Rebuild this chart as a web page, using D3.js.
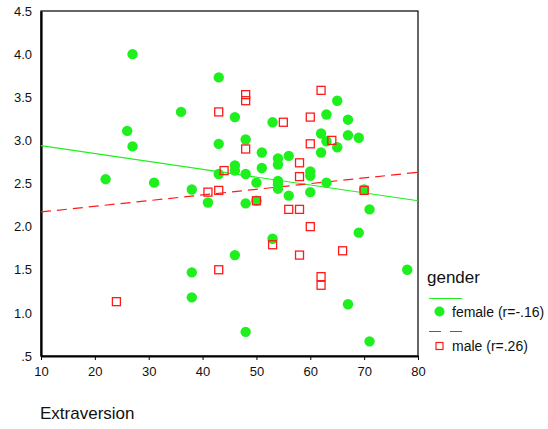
<!DOCTYPE html>
<html>
<head>
<meta charset="utf-8">
<script src="https://cdn.jsdelivr.net/npm/d3@7"></script>
<style>
  body { margin: 0; background: #fff; }
  text { font-family: "Liberation Sans", Arial, sans-serif; fill: #111; }
</style>
</head>
<body>
<div id="canvas"></div>
<script>
var width = 548;
var height = 429;

// female: Extraversion / score
var femaleX = [27, 43, 36, 26, 27, 43, 22, 31, 38, 43, 41, 38, 38, 46, 53, 63, 65, 67, 48, 62,
               63, 67, 69, 65, 62, 51, 56, 54, 54, 46, 46, 51, 48, 60, 60, 54, 54, 50, 63, 70,
               54, 56, 60, 48, 71, 50, 69, 53, 46, 78, 67, 48, 71];
var femaleY = [4.00, 3.73, 3.33, 3.11, 2.93, 2.96, 2.55, 2.51, 2.43, 2.61, 2.28, 1.47, 1.18, 3.27, 3.21, 3.30, 3.46, 3.24, 3.01, 3.08,
               2.99, 3.06, 3.03, 2.92, 2.86, 2.86, 2.82, 2.79, 2.72, 2.71, 2.65, 2.68, 2.61, 2.64, 2.59, 2.53, 2.49, 2.51, 2.51, 2.43,
               2.44, 2.36, 2.40, 2.27, 2.20, 2.30, 1.93, 1.86, 1.67, 1.50, 1.10, 0.78, 0.67];

// male
var maleX = [62, 48, 48, 43, 60, 55, 64, 60, 48, 58, 44, 58, 41, 43, 70, 50, 56, 58, 60, 53, 66, 58, 43, 62, 62, 24];
var maleY = [3.58, 3.53, 3.46, 3.33, 3.27, 3.21, 3.00, 2.96, 2.90, 2.74, 2.65, 2.58, 2.40, 2.42, 2.42, 2.30, 2.20, 2.20, 2.00, 1.79, 1.72, 1.67, 1.50, 1.42, 1.32, 1.13];

// fit lines read at x = 10 and x = 80
var fitX = [10, 80];
var femaleFit = [2.94, 2.30];
var maleFit = [2.17, 2.63];

var xTicks = [10, 20, 30, 40, 50, 60, 70, 80];
var yTicks = [0.5, 1.0, 1.5, 2.0, 2.5, 3.0, 3.5, 4.0, 4.5];
var legendLabels = ["female (r=-.16)", "male (r=.26)"];

var green = "#1ef01e";
var red = "#ff1a1a";

var svg = d3.select("#canvas")
            .append("svg")
            .attr("width", width)
            .attr("height", height)
            .style("background-color", "#fff");

var xScale = d3.scaleLinear()
                .domain([10, 80])
                .range([41, 418]);

var yScale = d3.scaleLinear()
                .domain([0.5, 4.5])
                .range([356, 11]);

// frame
svg.append("rect")
    .attr("x", xScale(10))
    .attr("y", yScale(4.5))
    .attr("width", xScale(80) - xScale(10))
    .attr("height", yScale(0.5) - yScale(4.5))
    .attr("fill", "none")
    .attr("stroke", "#000")
    .attr("stroke-width", 1.2);

var xAxis = d3.axisBottom(xScale)
            .tickValues(xTicks)
            .tickSize(4)
            .tickPadding(7)
            .tickSizeOuter(0);

var yAxis = d3.axisLeft(yScale)
            .tickValues(yTicks)
            .tickSize(0)
            .tickPadding(9)
            .tickFormat(d => d3.format(".1f")(d).replace(/^0\./, "."));

var gx = svg.append("g")
    .attr("transform", `translate(0, ${yScale(0.5)})`)
    .call(xAxis);

var gy = svg.append("g")
    .attr("transform", `translate(${xScale(10)}, 0)`)
    .call(yAxis);

[gx, gy].forEach(g => {
    g.select(".domain").attr("stroke", "#000").attr("stroke-width", 2.2);
    g.selectAll(".tick line").attr("stroke", "#000");
    g.selectAll(".tick text")
        .style("font-family", "'Liberation Sans', Arial, sans-serif")
        .style("font-size", "13px")
        .attr("fill", "#111");
});

svg.append("text")
    .attr("x", 40)
    .attr("y", 419)
    .style("font-size", "17px")
    .text("Extraversion");

// fit lines
var line = d3.line()
            .x(d => xScale(d[0]))
            .y(d => yScale(d[1]));

svg.append("path")
    .attr("d", line(d3.zip(fitX, femaleFit)))
    .attr("fill", "none")
    .attr("stroke", green)
    .attr("stroke-width", 1.2);

svg.append("path")
    .attr("d", line(d3.zip(fitX, maleFit)))
    .attr("fill", "none")
    .attr("stroke", red)
    .attr("stroke-width", 1.2)
    .attr("stroke-dasharray", "10,6");

// points
svg.selectAll(".female")
    .data(d3.zip(femaleX, femaleY))
    .enter()
    .append("circle")
    .attr("class", "female")
    .attr("cx", d => xScale(d[0]))
    .attr("cy", d => yScale(d[1]))
    .attr("r", 5.2)
    .attr("fill", green);

var sq = 8;
svg.selectAll(".male")
    .data(d3.zip(maleX, maleY))
    .enter()
    .append("rect")
    .attr("class", "male")
    .attr("x", d => xScale(d[0]) - sq / 2)
    .attr("y", d => yScale(d[1]) - sq / 2)
    .attr("width", sq)
    .attr("height", sq)
    .attr("fill", "none")
    .attr("stroke", red)
    .attr("stroke-width", 1.3);

// legend
var legend = svg.append("g");

legend.append("text")
    .attr("x", 427)
    .attr("y", 283)
    .style("font-size", "17px")
    .text("gender");

legend.append("line")
    .attr("x1", 429).attr("x2", 462)
    .attr("y1", 298.5).attr("y2", 298.5)
    .attr("stroke", green)
    .attr("stroke-width", 1.2);

legend.append("circle")
    .attr("cx", 439.5)
    .attr("cy", 311.5)
    .attr("r", 5)
    .attr("fill", green);

legend.append("line")
    .attr("x1", 429).attr("x2", 462)
    .attr("y1", 331.5).attr("y2", 331.5)
    .attr("stroke", red)
    .attr("stroke-width", 1.2)
    .attr("stroke-dasharray", "12,9");

legend.append("rect")
    .attr("x", 436)
    .attr("y", 342.5)
    .attr("width", 7)
    .attr("height", 7)
    .attr("fill", "none")
    .attr("stroke", red)
    .attr("stroke-width", 1.2);

legend.selectAll(".lab")
    .data(legendLabels)
    .enter()
    .append("text")
    .attr("class", "lab")
    .attr("x", 452)
    .attr("y", (d, i) => 316.5 + i * 34)
    .style("font-size", "14px")
    .text(d => d);
</script>
</body>
</html>
